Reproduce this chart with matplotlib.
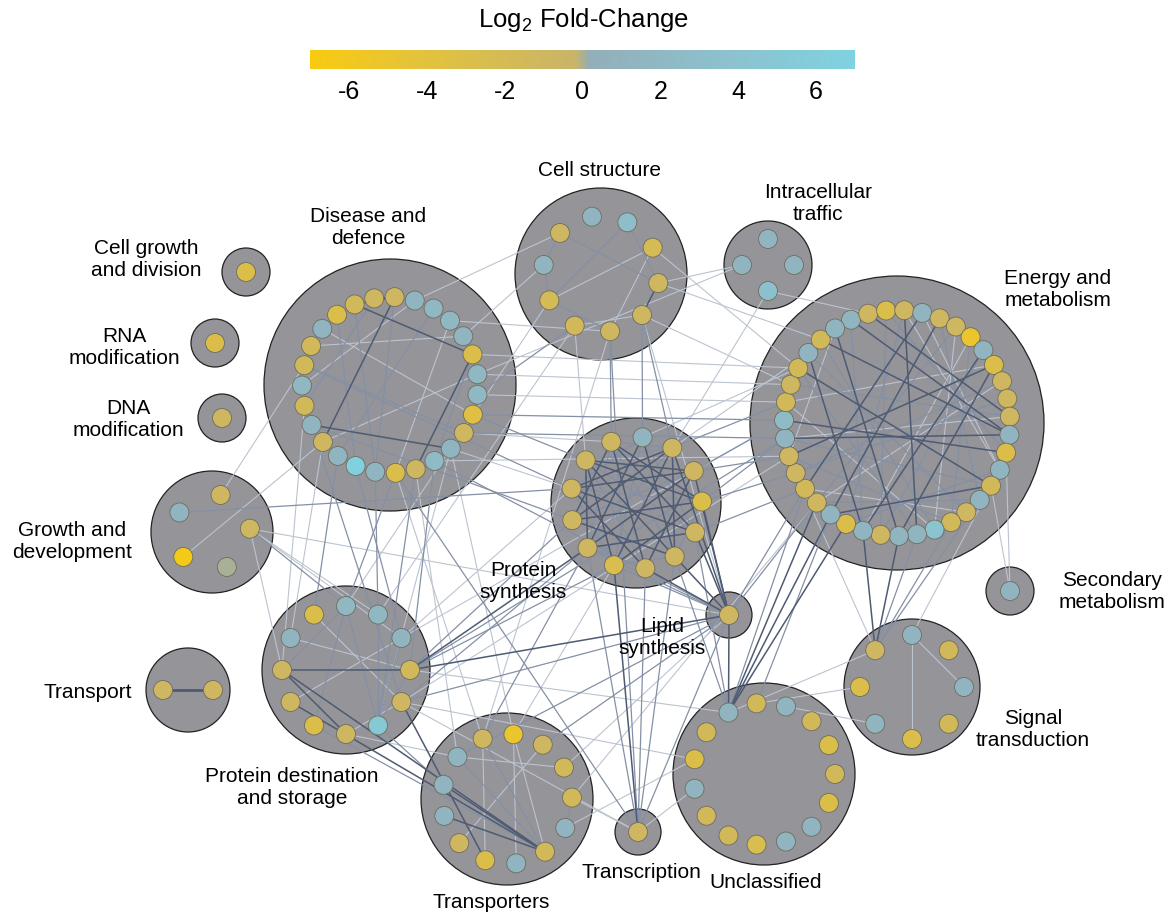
import numpy as np
import matplotlib.pyplot as plt
from matplotlib.patches import Circle
from matplotlib.colors import LinearSegmentedColormap, Normalize
from matplotlib.cm import ScalarMappable

plt.rcParams['font.family'] = ['Liberation Sans', 'DejaVu Sans']
plt.rcParams['mathtext.fontset'] = 'custom'
plt.rcParams['mathtext.rm'] = 'Liberation Sans'

# log2 fold-change of every protein, per functional category (clockwise order)
cell_growth = [-3.0]
rna_mod = [-3.0]
dna_mod = [-1.0]
disease = [-1.0, 1.5, 2.0, 2.0, 1.5, -3.0, 2.0, 2.0, -3.5, -1.0, 1.5, 2.5, -1.0, -3.0,
           1.5, 6.5, 1.5, -1.0, 1.5, -1.5, 2.0, -1.5, -1.5, 1.5, -3.0, -1.5, -1.0]
cell_struct = [-1.0, 1.5, 3.0, -2.0, -1.0, -1.0, -1.0, -1.5, -2.0, 1.5]
traffic = [1.5, 1.5, 3.5, 1.5]
energy = [1.5, -1.0, -3.0, -1.0, 1.5, -1.0, -1.0, -5.0, 1.5, -3.0, -1.0, -1.0, -1.0, 1.5,
          -3.0, 1.5, -1.5, 1.5, -1.0, -1.5, 4.0, 1.5, 1.5, -1.0, 1.5, -3.0, 1.5, -1.0,
          -1.5, -1.0, -1.0, 1.5, 2.5, -1.5, -1.0, -1.5, 1.5, -1.5, 1.5]
growth = [1.5, -1.0, -1.0, 0.0, -6.5]
prot_synth = [-1.0, 1.5, -1.0, -1.0, -3.0, -1.0, -1.0, -1.0, -2.5, -1.0, -1.0, -1.0, -1.0]
lipid = [-1.0]
secondary = [1.5]
signal = [1.5, -1.5, 1.5, -1.5, -3.0, 1.5, -3.0, -1.0]
transport = [-1.0, -1.0]
prot_dest = [2.0, 2.0, 1.5, -1.5, -1.0, 5.0, -1.0, -3.0, -1.0, -1.0, 1.5, -3.0]
transporters = [-1.0, -5.0, -1.0, -1.5, -1.5, 1.5, -1.5, 1.5, -3.0, -1.0, 1.5, 1.5, 1.5]
transcription = [-1.0]
unclassified = [1.5, -1.5, 1.5, -1.5, -3.0, -1.5, -3.0, 1.5, 1.5, -2.5, -1.5, -1.5, 1.5, -3.0, -1.5]

fc = {'CGD': cell_growth, 'RNA': rna_mod, 'DNA': dna_mod, 'DIS': disease,
      'CS': cell_struct, 'IT': traffic, 'EM': energy, 'GD': growth,
      'PS': prot_synth, 'LS': lipid, 'SM': secondary, 'ST': signal,
      'TP': transport, 'PDS': prot_dest, 'TR': transporters,
      'TC': transcription, 'UN': unclassified}

names = {'CGD': 'Cell growth\nand division', 'RNA': 'RNA\nmodification',
         'DNA': 'DNA\nmodification', 'DIS': 'Disease and\ndefence',
         'CS': 'Cell structure', 'IT': 'Intracellular\ntraffic',
         'EM': 'Energy and\nmetabolism', 'GD': 'Growth and\ndevelopment',
         'PS': 'Protein\nsynthesis', 'LS': 'Lipid\nsynthesis',
         'SM': 'Secondary\nmetabolism', 'ST': 'Signal\ntransduction',
         'TP': 'Transport', 'PDS': 'Protein destination\nand storage',
         'TR': 'Transporters', 'TC': 'Transcription', 'UN': 'Unclassified'}

# interactions: (category, node, category, node, strength 1..3)
edges = [
    # protein synthesis, internal
    ('PS', 0, 'PS', 4, 3), ('PS', 0, 'PS', 5, 3), ('PS', 0, 'PS', 6, 2), ('PS', 0, 'PS', 7, 3),
    ('PS', 0, 'PS', 9, 2), ('PS', 0, 'PS', 10, 3), ('PS', 1, 'PS', 5, 2), ('PS', 1, 'PS', 6, 3),
    ('PS', 1, 'PS', 8, 2), ('PS', 1, 'PS', 9, 3), ('PS', 1, 'PS', 11, 2), ('PS', 2, 'PS', 6, 3),
    ('PS', 2, 'PS', 8, 3), ('PS', 2, 'PS', 9, 2), ('PS', 2, 'PS', 10, 3), ('PS', 2, 'PS', 11, 3),
    ('PS', 2, 'PS', 12, 2), ('PS', 3, 'PS', 7, 3), ('PS', 3, 'PS', 9, 3), ('PS', 3, 'PS', 10, 2),
    ('PS', 3, 'PS', 11, 3), ('PS', 3, 'PS', 12, 3), ('PS', 4, 'PS', 8, 3), ('PS', 4, 'PS', 10, 3),
    ('PS', 4, 'PS', 11, 2), ('PS', 4, 'PS', 12, 3), ('PS', 5, 'PS', 9, 3), ('PS', 5, 'PS', 11, 3),
    ('PS', 5, 'PS', 12, 2), ('PS', 6, 'PS', 10, 3), ('PS', 6, 'PS', 12, 3), ('PS', 7, 'PS', 11, 3),
    ('PS', 7, 'PS', 12, 2), ('PS', 8, 'PS', 12, 3), ('PS', 8, 'PS', 11, 2), ('PS', 9, 'PS', 12, 3),
    ('PS', 0, 'PS', 2, 2), ('PS', 6, 'PS', 8, 2), ('PS', 7, 'PS', 9, 2), ('PS', 4, 'PS', 6, 2),
    # energy and metabolism, internal
    ('EM', 0, 'EM', 13, 3), ('EM', 0, 'EM', 24, 2), ('EM', 37, 'EM', 13, 3), ('EM', 37, 'EM', 20, 2),
    ('EM', 3, 'EM', 21, 3), ('EM', 8, 'EM', 24, 3), ('EM', 8, 'EM', 23, 2), ('EM', 36, 'EM', 24, 3),
    ('EM', 36, 'EM', 18, 2), ('EM', 35, 'EM', 16, 3), ('EM', 34, 'EM', 12, 2), ('EM', 31, 'EM', 13, 3),
    ('EM', 31, 'EM', 16, 2), ('EM', 30, 'EM', 9, 3), ('EM', 29, 'EM', 10, 2), ('EM', 28, 'EM', 4, 3),
    ('EM', 27, 'EM', 6, 2), ('EM', 26, 'EM', 5, 3), ('EM', 25, 'EM', 3, 2), ('EM', 24, 'EM', 7, 1),
    ('EM', 23, 'EM', 2, 2), ('EM', 22, 'EM', 38, 3), ('EM', 21, 'EM', 35, 2), ('EM', 20, 'EM', 33, 1),
    ('EM', 19, 'EM', 30, 2), ('EM', 18, 'EM', 28, 1), ('EM', 17, 'EM', 27, 2), ('EM', 16, 'EM', 26, 3),
    ('EM', 15, 'EM', 25, 2), ('EM', 14, 'EM', 32, 3), ('EM', 12, 'EM', 31, 1), ('EM', 11, 'EM', 29, 2),
    ('EM', 10, 'EM', 27, 1), ('EM', 9, 'EM', 22, 3), ('EM', 7, 'EM', 19, 2), ('EM', 6, 'EM', 20, 1),
    ('EM', 5, 'EM', 17, 2), ('EM', 4, 'EM', 15, 1), ('EM', 2, 'EM', 14, 2), ('EM', 1, 'EM', 12, 3),
    ('EM', 3, 'EM', 15, 1), ('EM', 38, 'EM', 30, 1), ('EM', 33, 'EM', 9, 1),
    # disease and defence, internal
    ('DIS', 0, 'DIS', 25, 3), ('DIS', 0, 'DIS', 26, 3), ('DIS', 0, 'DIS', 17, 3), ('DIS', 0, 'DIS', 14, 2),
    ('DIS', 25, 'DIS', 5, 3), ('DIS', 5, 'DIS', 12, 3), ('DIS', 5, 'DIS', 11, 2), ('DIS', 18, 'DIS', 10, 3),
    ('DIS', 21, 'DIS', 9, 2), ('DIS', 24, 'DIS', 15, 2), ('DIS', 23, 'DIS', 8, 1), ('DIS', 22, 'DIS', 4, 1),
    ('DIS', 2, 'DIS', 16, 2), ('DIS', 3, 'DIS', 13, 1), ('DIS', 26, 'DIS', 19, 2), ('DIS', 1, 'DIS', 20, 1),
    ('DIS', 6, 'DIS', 17, 1), ('DIS', 25, 'DIS', 14, 2),
    # cell structure, internal
    ('CS', 0, 'CS', 4, 2), ('CS', 0, 'CS', 9, 2), ('CS', 9, 'CS', 8, 2), ('CS', 2, 'CS', 8, 2),
    ('CS', 2, 'CS', 4, 2), ('CS', 8, 'CS', 3, 1), ('CS', 4, 'CS', 5, 3), ('CS', 8, 'CS', 6, 2),
    ('CS', 5, 'CS', 7, 1), ('CS', 3, 'CS', 6, 1),
    # protein destination and storage, internal
    ('PDS', 9, 'PDS', 3, 3), ('PDS', 9, 'PDS', 6, 3), ('PDS', 0, 'PDS', 5, 2), ('PDS', 1, 'PDS', 5, 2),
    ('PDS', 2, 'PDS', 5, 2), ('PDS', 11, 'PDS', 4, 1), ('PDS', 10, 'PDS', 3, 1), ('PDS', 8, 'PDS', 2, 1),
    ('PDS', 0, 'PDS', 7, 2), ('PDS', 3, 'PDS', 5, 2), ('PDS', 4, 'PDS', 6, 1), ('PDS', 0, 'PDS', 9, 2),
    # transporters, internal
    ('TR', 6, 'TR', 10, 3), ('TR', 6, 'TR', 11, 3), ('TR', 6, 'TR', 12, 2), ('TR', 6, 'TR', 1, 1),
    ('TR', 6, 'TR', 0, 2), ('TR', 4, 'TR', 5, 2), ('TR', 8, 'TR', 0, 1), ('TR', 1, 'TR', 7, 1),
    ('TR', 2, 'TR', 9, 1), ('TR', 12, 'TR', 3, 1),
    # small categories, internal
    ('ST', 0, 'ST', 4, 1), ('ST', 0, 'ST', 2, 1), ('TP', 0, 'TP', 1, 3),
    # growth and development
    ('GD', 0, 'PS', 11, 2), ('GD', 4, 'DIS', 17, 1), ('GD', 2, 'PDS', 0, 2), ('GD', 2, 'PDS', 1, 1),
    ('GD', 2, 'PDS', 2, 1), ('GD', 2, 'PDS', 9, 1), ('GD', 1, 'DIS', 21, 1),
    # protein synthesis to other categories
    ('PS', 2, 'LS', 0, 3), ('PS', 3, 'LS', 0, 3), ('PS', 4, 'LS', 0, 3), ('PS', 5, 'LS', 0, 3),
    ('PS', 6, 'LS', 0, 3), ('PS', 7, 'LS', 0, 3), ('PS', 8, 'LS', 0, 2), ('PS', 9, 'LS', 0, 2),
    ('PS', 7, 'TC', 0, 2), ('PS', 8, 'TC', 0, 3), ('PS', 9, 'TC', 0, 2), ('PS', 6, 'TC', 0, 2),
    ('PS', 11, 'DIS', 21, 2), ('PS', 12, 'DIS', 8, 2), ('PS', 0, 'DIS', 9, 1), ('PS', 10, 'DIS', 18, 2),
    ('PS', 11, 'DIS', 10, 1), ('PS', 2, 'EM', 33, 2), ('PS', 3, 'EM', 32, 2), ('PS', 4, 'EM', 31, 2),
    ('PS', 1, 'EM', 35, 1), ('PS', 3, 'EM', 30, 2), ('PS', 2, 'EM', 36, 1), ('PS', 4, 'EM', 29, 2),
    ('PS', 5, 'EM', 28, 2), ('PS', 0, 'CS', 6, 2), ('PS', 1, 'CS', 5, 2), ('PS', 12, 'CS', 7, 1),
    ('PS', 10, 'PDS', 3, 2), ('PS', 9, 'PDS', 4, 2), ('PS', 11, 'PDS', 2, 1), ('PS', 8, 'PDS', 3, 2),
    ('PS', 9, 'PDS', 3, 3), ('PS', 8, 'TR', 1, 1), ('PS', 9, 'TR', 0, 2), ('PS', 6, 'UN', 0, 2),
    # lipid synthesis and transcription
    ('LS', 0, 'PDS', 3, 3), ('LS', 0, 'PDS', 4, 2), ('LS', 0, 'TR', 12, 2), ('LS', 0, 'TR', 3, 1),
    ('LS', 0, 'TC', 0, 2), ('LS', 0, 'UN', 0, 3), ('LS', 0, 'EM', 28, 2), ('LS', 0, 'EM', 27, 2),
    ('LS', 0, 'DIS', 11, 2), ('LS', 0, 'GD', 2, 1), ('TC', 0, 'DIS', 13, 2), ('TC', 0, 'CS', 6, 2),
    ('TC', 0, 'UN', 12, 1), ('TC', 0, 'PDS', 4, 1), ('TC', 0, 'TR', 4, 1),
    # unclassified, signal transduction, secondary metabolism
    ('UN', 0, 'EM', 27, 3), ('UN', 0, 'EM', 26, 3), ('UN', 0, 'EM', 25, 3), ('UN', 0, 'EM', 28, 2),
    ('UN', 0, 'ST', 7, 1), ('UN', 1, 'ST', 6, 1), ('UN', 0, 'PS', 5, 2), ('UN', 13, 'TR', 5, 1),
    ('ST', 7, 'EM', 24, 3), ('ST', 7, 'EM', 22, 3), ('ST', 7, 'EM', 21, 2), ('ST', 7, 'EM', 19, 2),
    ('ST', 7, 'EM', 17, 2), ('ST', 0, 'EM', 15, 1), ('ST', 7, 'EM', 29, 1), ('ST', 5, 'UN', 2, 1),
    ('SM', 0, 'EM', 16, 1), ('SM', 0, 'EM', 14, 1),
    # intracellular traffic and cell structure
    ('IT', 3, 'CS', 4, 1), ('IT', 2, 'EM', 1, 1), ('IT', 3, 'DIS', 6, 1), ('IT', 2, 'PS', 2, 1),
    ('CS', 6, 'DIS', 3, 1), ('CS', 7, 'DIS', 7, 2), ('CS', 5, 'PS', 2, 2), ('CS', 4, 'EM', 37, 1),
    ('CS', 5, 'EM', 34, 1), ('CS', 8, 'PDS', 0, 1), ('CS', 7, 'PDS', 1, 1), ('CS', 6, 'TR', 0, 1),
    ('CS', 0, 'DIS', 1, 1), ('CS', 9, 'DIS', 4, 1), ('CS', 5, 'LS', 0, 1), ('CS', 3, 'EM', 35, 1),
    # disease and defence to other categories
    ('DIS', 13, 'PDS', 0, 2), ('DIS', 14, 'PDS', 1, 2), ('DIS', 15, 'PDS', 2, 2), ('DIS', 16, 'PDS', 11, 2),
    ('DIS', 17, 'PDS', 10, 1), ('DIS', 12, 'PDS', 5, 2), ('DIS', 11, 'PDS', 3, 2), ('DIS', 19, 'PDS', 9, 1),
    ('DIS', 18, 'PDS', 4, 2), ('DIS', 10, 'PDS', 5, 1), ('DIS', 8, 'EM', 32, 2), ('DIS', 7, 'EM', 33, 1),
    ('DIS', 9, 'EM', 31, 2), ('DIS', 5, 'EM', 35, 1), ('DIS', 6, 'EM', 34, 1), ('DIS', 11, 'EM', 30, 1),
    ('DIS', 12, 'TR', 12, 1), ('DIS', 13, 'TR', 0, 1), ('DIS', 10, 'TR', 1, 1),
    # protein destination, transporters, energy
    ('PDS', 3, 'EM', 31, 2), ('PDS', 4, 'EM', 30, 1), ('PDS', 2, 'EM', 32, 1),
    ('PDS', 8, 'TR', 6, 3), ('PDS', 9, 'TR', 6, 3), ('PDS', 7, 'TR', 6, 2), ('PDS', 4, 'TR', 8, 3),
    ('PDS', 5, 'TR', 11, 2), ('PDS', 6, 'TR', 12, 1), ('PDS', 3, 'UN', 0, 1), ('PDS', 4, 'UN', 13, 1),
    ('TR', 4, 'EM', 27, 1), ('TR', 2, 'LS', 0, 2), ('EM', 26, 'UN', 1, 2),
]

# layout in pixel units: centre x, centre y, circle radius, ring radius, first angle
layout = {'CGD': (246, 272, 24, 0, 90), 'RNA': (215, 343, 24, 0, 90),
          'DNA': (222, 418, 24, 0, 90), 'DIS': (390, 385, 126, 88, 87),
          'CS': (601, 274, 86, 58, 135), 'IT': (768, 265, 44, 26, 90),
          'EM': (897, 423, 147, 113, 114), 'GD': (212, 532, 61, 38, 149),
          'PS': (636, 503, 85, 66, 112), 'LS': (729, 615, 23, 0, 90),
          'SM': (1010, 591, 24, 0, 90), 'ST': (912, 687, 68, 52, 90),
          'TP': (188, 690, 42, 25, 180), 'PDS': (346, 670, 84, 64, 90),
          'TR': (507, 799, 86, 65, 112), 'TC': (638, 832, 23, 0, 90),
          'UN': (764, 774, 91, 71, 120)}
label_pos = {'CGD': (146, 259), 'RNA': (124, 348), 'DNA': (128, 419), 'DIS': (368, 227),
             'CS': (600, 170), 'IT': (818, 203), 'EM': (1058, 290), 'GD': (72, 542),
             'PS': (523, 582), 'LS': (662, 637), 'SM': (1112, 591), 'ST': (1033, 729),
             'TP': (88, 692), 'PDS': (292, 787), 'TR': (491, 903), 'TC': (641, 873),
             'UN': (766, 882)}

cmap = LinearSegmentedColormap.from_list('fc', [
    (0.0, '#F8CB10'), (3 / 14, '#E2C23E'), (6.85 / 14, '#C8B46A'),
    (7.15 / 14, '#93AEB8'), (11 / 14, '#8BC3CF'), (1.0, '#7FD2E1')])
norm = Normalize(-7, 7)


def node_xy(key):
    cx, cy, R, r, start = layout[key]
    n = len(fc[key])
    ang = np.radians(start - 360.0 / n * np.arange(n))
    return cx + r * np.cos(ang), cy - r * np.sin(ang)


pos = {k: node_xy(k) for k in fc}

fig = plt.figure(figsize=(11.7, 9.15), dpi=100)
ax = fig.add_axes([0, 0, 1, 1])
ax.set_xlim(0, 1170)
ax.set_ylim(915, 0)
ax.axis('off')

for k in fc:
    cx, cy, R, r, start = layout[k]
    ax.add_patch(Circle((cx, cy), R, facecolor='#959499', edgecolor='#222222', lw=0.9, zorder=1))
    lx, ly = label_pos[k]
    ax.text(lx, ly, names[k], ha='center', va='center', fontsize=15, linespacing=1.2)

styles = {1: ('#BCC4D0', 0.8), 2: ('#8490A5', 0.9), 3: ('#4E5B72', 1.1)}
for w in (1, 2, 3):
    col, lw = styles[w]
    for g1, i1, g2, i2, s in edges:
        if s != w:
            continue
        x1, y1 = pos[g1][0][i1], pos[g1][1][i1]
        x2, y2 = pos[g2][0][i2], pos[g2][1][i2]
        ax.plot([x1, x2], [y1, y2], color=col, lw=lw if not (g1 == 'TP') else 2.0,
                zorder=2, solid_capstyle='round')

for k in fc:
    xs, ys = pos[k]
    for x, y, v in zip(xs, ys, fc[k]):
        ax.add_patch(Circle((x, y), 9.5, facecolor=cmap(norm(v)), edgecolor='#6f6c5e',
                            lw=0.6, zorder=3))

# colour scale
cax = fig.add_axes([310 / 1170, 1 - 69 / 915, 545 / 1170, 19 / 915])
cb = fig.colorbar(ScalarMappable(norm=norm, cmap=cmap), cax=cax, orientation='horizontal',
                  ticks=[-6, -4, -2, 0, 2, 4, 6])
cb.outline.set_visible(False)
cax.tick_params(length=0, pad=8, labelsize=18)
cax.set_xticklabels(['-6', '-4', '-2', '0', '2', '4', '6'])
fig.text(583 / 1170, 1 - 20 / 915, 'Log$_2$ Fold-Change', ha='center', va='center', fontsize=18.5)

fig.savefig('out.png', dpi=100)
